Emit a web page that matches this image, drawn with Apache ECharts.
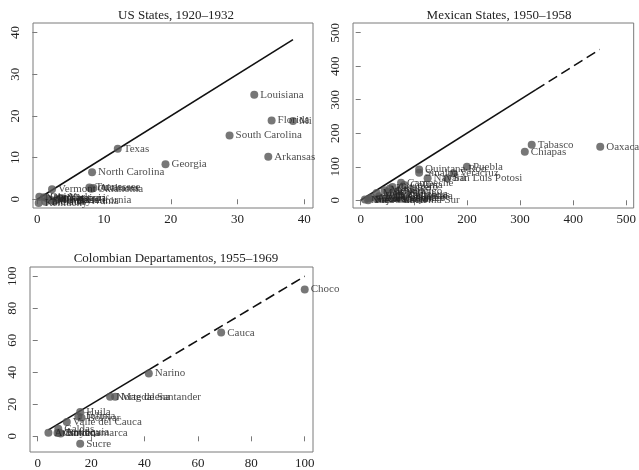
<!DOCTYPE html>
<html>
<head>
<meta charset="utf-8">
<script src="https://cdn.jsdelivr.net/npm/echarts@6/dist/echarts.min.js"></script>
<style>html,body{margin:0;padding:0;background:#fff}#c{width:639px;height:470px}</style>
</head>
<body>
<div id="c"></div>
<script>
// ---------- Data ----------
const titles = ['US States, 1920\u20131932', 'Mexican States, 1950\u20131958', 'Colombian Departamentos, 1955\u20131969'];

const usNames = ['Louisiana','Florida','Mississippi','South Carolina','Arkansas','Texas','Georgia','North Carolina',
  'Tennessee','Oklahoma','Alabama','Vermont','Kentucky','Maryland','New York','Ohio','Missouri','Virginia',
  'Pennsylvania','Kansas','Illinois','California','Indiana'];
const usX = [32.5,35.1,38.3,28.8,34.6,12.05,19.2,8.2, 7.8,8.1,8.4,2.2,0.2,2.0,0.3,1.0,3.5,4.0, 2.5,1.5,3.0,6.5,1.2];
const usY = [25.1,18.9,18.8,15.3,10.2,12.1,8.4,6.5, 2.8,2.5,2.7,2.4,-0.9,-0.2,0.6,0.5,0.3,0.2, -0.5,0.2,-0.1,-0.2,-0.6];
const usTicks = [0,10,20,30,40];
const usSolid = [0, 38.3];

const mxNames = ['Oaxaca','Tabasco','Chiapas','Puebla','Quintana Roo','Sinaloa','Veracruz','Nayarit','San Luis Potosi',
  'Campeche','Colima','Guerrero','Hidalgo','Mexico','Jalisco','Durango','Morelos','Tlaxcala','Zacatecas',
  'Aguascalientes','Baja California','Baja California Sur','Coahuila','Chihuahua','Sonora','Tamaulipas','Nuevo Leon','Queretaro'];
const mxX = [451,322,309,200,110,110,175,126,163, 76,82,60,55,45,50,70,30,50,75, 20,35,14,40,62,16,30,8,66];
const mxY = [160,166,145,100,92,82,80,66,66, 52,46,40,35,30,25,28,22,10,14, 8,12,0,5,18,5,4,2,8];
const mxTicks = [0,100,200,300,400,500];
const mxSolid = [0, 330];
const mxDashed = [330, 450];

const coNames = ['Choco','Cauca','Narino','Norte de Santander','Magdalena','Huila','Tolima','Bolivar','Valle del Cauca',
  'Caldas','Atlantico','Cundinamarca','Antioquia','Boyaca','Sucre'];
const coX = [100,68.7,41.6,27.1,29.0,15.9,15.2,16.4,10.9, 7.7,4.0,7.4,8.0,8.6,15.9];
const coY = [91.7,64.8,39.2,24.8,24.8,15.2,12.4,11.6,8.9, 4.8,2.2,2.0,2.4,1.8,-4.6];
const coTicks = [0,20,40,60,80,100];
const coSolid = [4, 42];
const coDashed = [42, 100];

// ---------- Styles ----------
const FONT = 'Liberation Serif';
const TXT = '#222';
const BOX = '#7a7a7a';
const PT = '#555555';

const grids = [
  {left:33, top:23, width:280, height:185},
  {left:353, top:23, width:282, height:185},
  {left:30, top:267, width:283, height:185}
];
const ranges = [
  {x:[-0.65,41.3], y:[-2.1,42.3], t:usTicks},
  {x:[-14.5,514], y:[-23,529], t:mxTicks},
  {x:[-2.9,103.1], y:[-9.8,105.8], t:coTicks}
];

function axis(i, isY){
  const r = ranges[i];
  const rng = isY ? r.y : r.x;
  return {
    type:'value', gridIndex:i, min:rng[0], max:rng[1],
    axisLine:{show:false},
    splitLine:{show:false},
    axisTick:{show:true, inside:false, length:5, lineStyle:{color:BOX, width:1}, customValues:r.t},
    axisLabel:{show:true, customValues:r.t, fontFamily:FONT, fontSize:13, color:TXT,
      margin: isY ? 11 : 5, rotate: isY ? 90 : 0}
  };
}

function pts(names, xs, ys){
  return names.map((n,k)=>{
    const d = {value:[xs[k], ys[k]], name:n};
    if (n === 'Mississippi') d.label = {width:16, overflow:'truncate', ellipsis:''};
    return d;
  });
}

function scatter(i, names, xs, ys){
  return {
    type:'scatter', xAxisIndex:i, yAxisIndex:i, symbolSize:8,
    itemStyle:{color:PT}, data:pts(names, xs, ys), clip:true, z:3,
    label:{show:true, position:'right', distance:2, formatter:p=>p.name,
      fontFamily:FONT, fontSize:11, color:TXT}
  };
}

function line(i, seg, dashed){
  return {
    type:'line', xAxisIndex:i, yAxisIndex:i, symbol:'none', silent:true, z:2,
    lineStyle:{color:'#111', width:1.6, type: dashed ? [10,5] : 'solid'},
    data:[[seg[0],seg[0]],[seg[1],seg[1]]]
  };
}

const option = {
  animation:false,
  backgroundColor:'#fff',
  title: [
    {text:titles[0], left:171, top:4, textAlign:'center'},
    {text:titles[1], left:494, top:4, textAlign:'center'},
    {text:titles[2], left:171, top:247, textAlign:'center'}
  ].map(t=>Object.assign(t,{textStyle:{fontFamily:FONT, fontSize:13, fontWeight:'normal', color:TXT}})),
  grid: grids.map(g=>Object.assign({}, g, {show:true, borderColor:BOX, borderWidth:1, backgroundColor:'transparent'})),
  xAxis:[axis(0,false), axis(1,false), axis(2,false)],
  yAxis:[axis(0,true), axis(1,true), axis(2,true)],
  series:[
    line(0, usSolid, false),
    scatter(0, usNames, usX, usY),
    line(1, mxSolid, false),
    line(1, mxDashed, true),
    scatter(1, mxNames, mxX, mxY),
    line(2, coSolid, false),
    line(2, coDashed, true),
    scatter(2, coNames, coX, coY)
  ]
};

const chart = echarts.init(document.getElementById('c'), null, {renderer:'canvas'});
chart.setOption(option);
</script>
</body>
</html>
